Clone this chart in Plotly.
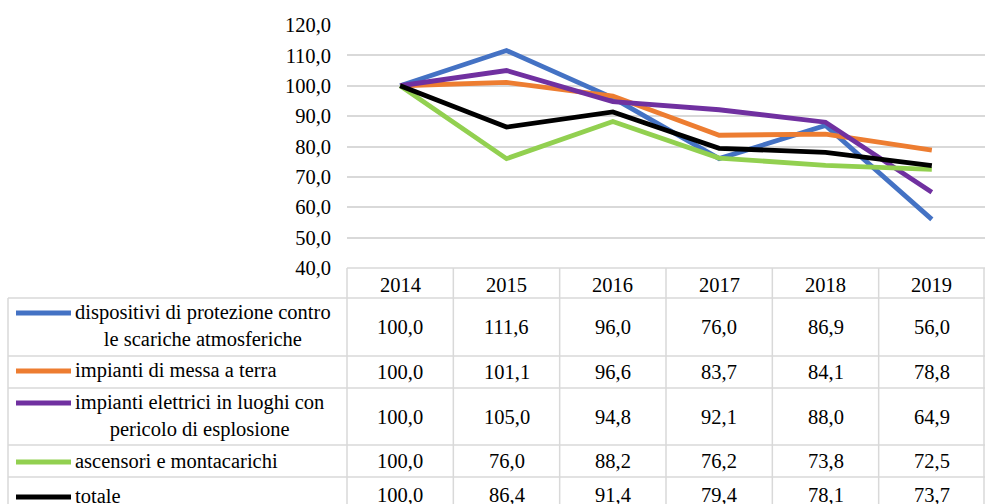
import plotly.graph_objects as go

years = ["2014", "2015", "2016", "2017", "2018", "2019"]
series_names = [
    "dispositivi di protezione contro<br>le scariche atmosferiche",
    "impianti di messa a terra",
    "impianti elettrici in luoghi con<br>pericolo di esplosione",
    "ascensori e montacarichi",
    "totale",
]
dispositivi = [100.0, 111.6, 96.0, 76.0, 86.9, 56.0]
messa_terra = [100.0, 101.1, 96.6, 83.7, 84.1, 78.8]
elettrici = [100.0, 105.0, 94.8, 92.1, 88.0, 64.9]
ascensori = [100.0, 76.0, 88.2, 76.2, 73.8, 72.5]
totale = [100.0, 86.4, 91.4, 79.4, 78.1, 73.7]
all_values = [dispositivi, messa_terra, elettrici, ascensori, totale]
colors = ["#4472C4", "#ED7D31", "#7030A0", "#92D050", "#000000"]

W, H = 985, 504
L, R, T, B = 347, 0, 25, 236
PW = W - L - R
PH = H - T - B
FONT = "Liberation Serif"
FS = 20.5
GRID = "#D9D9D9"


def px(x):
    return (x - L) / PW


def py(y):
    return (H - B - y) / PH


fig = go.Figure()
for name, vals, col in zip(series_names, all_values, colors):
    fig.add_trace(go.Scatter(x=years, y=vals, mode="lines", name=name,
                             line=dict(color=col, width=4.8), showlegend=False))

shapes = []
annotations = []

col_w = PW / len(years)
row_bounds = [298, 356, 388, 445, 477, 520]
header_top = H - B

shapes.append(dict(type="line", xref="paper", yref="paper", x0=px(L), x1=px(W),
                   y0=py(header_top), y1=py(header_top), line=dict(color=GRID, width=1.5)))
for yb in row_bounds[:-1]:
    shapes.append(dict(type="line", xref="paper", yref="paper", x0=px(8), x1=px(W),
                       y0=py(yb), y1=py(yb), line=dict(color=GRID, width=1.5)))
shapes.append(dict(type="line", xref="paper", yref="paper", x0=px(8), x1=px(8),
                   y0=py(298), y1=py(520), line=dict(color=GRID, width=1.5)))
for i in range(len(years) + 1):
    xv = L + i * col_w
    if xv > W - 1:
        xv = W - 1
    shapes.append(dict(type="line", xref="paper", yref="paper", x0=px(xv), x1=px(xv),
                       y0=py(header_top), y1=py(520), line=dict(color=GRID, width=1.5)))

for i, yr in enumerate(years):
    annotations.append(dict(xref="paper", yref="paper", x=px(L + (i + 0.5) * col_w),
                            y=py(285), text=yr, showarrow=False,
                            font=dict(family=FONT, size=FS, color="#000"),
                            xanchor="center", yanchor="middle"))

key_y = [313, 371, 403, 462, 497]
for r, (name, vals, col) in enumerate(zip(series_names, all_values, colors)):
    top, bot = row_bounds[r], row_bounds[r + 1]
    if r == 4:
        bot = 513
    cy = (top + bot) / 2
    shapes.append(dict(type="line", xref="paper", yref="paper", x0=px(16), x1=px(71),
                       y0=py(key_y[r]), y1=py(key_y[r]), line=dict(color=col, width=4.8)))
    annotations.append(dict(xref="paper", yref="paper", x=px(73), y=py(key_y[r] - 14),
                            text=name, showarrow=False, align="center",
                            font=dict(family=FONT, size=FS, color="#000"),
                            xanchor="left", yanchor="top"))
    for i, v in enumerate(vals):
        annotations.append(dict(xref="paper", yref="paper", x=px(L + (i + 0.5) * col_w),
                                y=py(cy), text=f"{v:.1f}".replace(".", ","), showarrow=False,
                                font=dict(family=FONT, size=FS, color="#000"),
                                xanchor="center", yanchor="middle"))

fig.update_layout(
    width=W, height=H,
    margin=dict(l=L, r=R, t=T, b=B, pad=0),
    paper_bgcolor="white", plot_bgcolor="white",
    separators=",.",
    font=dict(family=FONT, size=FS, color="#000"),
    xaxis=dict(type="category", range=[-0.5, 5.5], showticklabels=False,
               showgrid=False, zeroline=False, showline=False, fixedrange=True),
    yaxis=dict(range=[40, 120], dtick=10, tickformat=".1f", showgrid=True,
               gridcolor=GRID, gridwidth=1.5, zeroline=False, showline=False,
               ticklabelstandoff=15, fixedrange=True,
               tickfont=dict(family=FONT, size=FS, color="#000")),
    shapes=shapes, annotations=annotations,
)

fig.write_html("out.html", config={"displayModeBar": False},
               post_script="document.body.style.margin='0';document.body.style.padding='0';")
